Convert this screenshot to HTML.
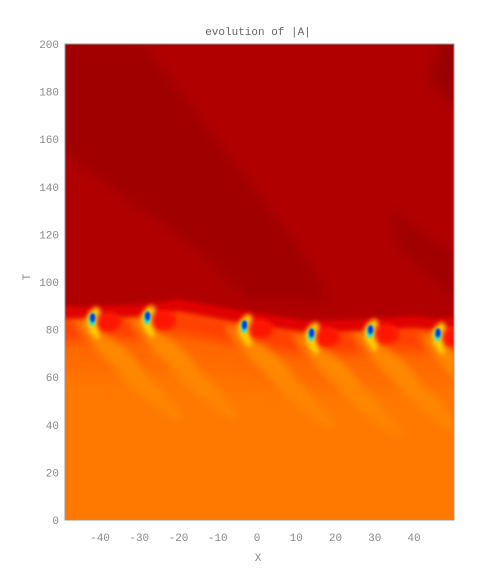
<!DOCTYPE html>
<html><head><meta charset="utf-8"><style>
body{margin:0;background:#fff;}
svg{display:block;font-family:"Liberation Mono",monospace;}
</style></head><body>
<svg width="500" height="583" viewBox="0 0 500 583">
<defs>
<filter id="b8" filterUnits="userSpaceOnUse" x="0" y="0" width="500" height="583"><feGaussianBlur stdDeviation="9"/></filter>
<filter id="b6" filterUnits="userSpaceOnUse" x="0" y="0" width="500" height="583"><feGaussianBlur stdDeviation="6"/></filter>
<filter id="b4" filterUnits="userSpaceOnUse" x="0" y="0" width="500" height="583"><feGaussianBlur stdDeviation="4"/></filter>
<filter id="b3" filterUnits="userSpaceOnUse" x="0" y="0" width="500" height="583"><feGaussianBlur stdDeviation="2.5"/></filter>
<filter id="b1" filterUnits="userSpaceOnUse" x="0" y="0" width="500" height="583"><feGaussianBlur stdDeviation="1"/></filter>
<clipPath id="clip"><rect x="65" y="44" width="389" height="476"/></clipPath>
</defs>
<text x="258" y="35" font-size="11" fill="#666" text-anchor="middle">evolution of |A|</text>
<g id="plot" clip-path="url(#clip)"></g>
<g id="axes"></g>
<text x="258" y="561" font-size="11" fill="#888" text-anchor="middle">X</text>
<text x="30" y="277" font-size="11" fill="#888" text-anchor="middle" transform="rotate(-90 30 277)">T</text>
</svg>
<script>
const xTicks=[-40,-30,-20,-10,0,10,20,30,40];
const yTicks=[0,20,40,60,80,100,120,140,160,180,200];
const spotX=[-42,-28,-3.3,13.8,28.8,46];
const spotT=[85,85.7,82,78.6,80,78.6];
const frontX=[-52,-42,-28,-20,-3.3,5,13.8,28.8,40,46,53];
const frontT=[88,88,89,91,86,84,82,83,84,83,84];
const NS='http://www.w3.org/2000/svg';
const sx=v=>257+v*3.925, sy=v=>520-v*2.38;
const plot=document.getElementById('plot'), axes=document.getElementById('axes');
function mk(p,tag,at){const e=document.createElementNS(NS,tag);for(const k in at)e.setAttribute(k,at[k]);p.appendChild(e);return e;}
let bg=mk(plot,'rect',{x:65,y:44,width:389,height:476,fill:'#ff7800'});


const fpts=(dy)=>frontX.map((x,i)=>sx(x)+','+(sy(frontT[i])+dy)).join(' ');
let t2=mk(plot,'polyline',{points:fpts(45),fill:'none',stroke:'#ff6a00',"stroke-width":40,filter:'url(#b8)'});


let t1=mk(plot,'polyline',{points:fpts(18),fill:'none',stroke:'#ff4000',"stroke-width":26,filter:'url(#b6)'});


spotX.forEach((x,i)=>{
 const cx=sx(x), cy=sy(spotT[i]);
 for(let k=0;k<3;k++){
  const ex=cx+15+k*22, ey=cy+28+k*24;
  let s=mk(plot,'ellipse',{cx:ex,cy:ey,rx:42,ry:9,fill:k==0?'#ff9800':'#ff8800',opacity:0.7,transform:`rotate(40 ${ex} ${ey})`,filter:'url(#b4)'});
  
  
 }
});
let up=mk(plot,'polygon',{points:'40,30 480,30 480,'+sy(84)+' '+fpts(0).split(' ').reverse().join(' ')+' 40,'+sy(88),fill:'#b00000',filter:'url(#b1)'});


let d1=mk(plot,'polygon',{points:'60,40 140,40 300,250 330,300 250,300 200,250 60,150',fill:'#a00000',filter:'url(#b6)'});


let d2=mk(plot,'polygon',{points:'440,40 460,40 460,110 430,80',fill:'#9a0000',filter:'url(#b6)'});


let d3=mk(plot,'polygon',{points:'390,210 460,260 460,300 400,250',fill:'#a00000',filter:'url(#b6)'});


let rb=mk(plot,'polyline',{points:fpts(2),fill:'none',stroke:'#e00000',"stroke-width":12,filter:'url(#b3)'});


spotX.forEach((x,i)=>{
 const cx=sx(x), cy=sy(spotT[i]);
 let r=mk(plot,'ellipse',{cx:cx+16,cy:cy+4,rx:13,ry:10,fill:'#ff1800',filter:'url(#b3)'});
 
 
 let y=mk(plot,'path',{d:`M${cx+4},${cy-8} Q${cx-12},${cy+2} ${cx+6},${cy+20} Q${cx-2},${cy+4} ${cx+6},${cy-6} Z`,fill:'#ffe000',stroke:'#ffd000','stroke-width':5,filter:'url(#b3)'});
 
 
 let c=mk(plot,'ellipse',{cx:cx,cy:cy+2,rx:3.5,ry:6.5,fill:'#30e0d0',filter:'url(#b1)'});
 
 
 let bl=mk(plot,'ellipse',{cx:cx+0.5,cy:cy,rx:2.5,ry:4.5,fill:'#0030e0',filter:'url(#b1)'});
 
 
});
let fr=mk(axes,'rect',{x:65,y:44,width:389,height:476,fill:'none',stroke:'#999','stroke-width':1});


xTicks.forEach(v=>{
 let t=mk(axes,'text',{x:sx(v),y:541,'font-size':11,fill:'#888','text-anchor':'middle'});
 t.textContent=v;
 
 
});
yTicks.forEach(v=>{
 let t=mk(axes,'text',{x:59,y:sy(v)+4,'font-size':11,fill:'#888','text-anchor':'end'});
 t.textContent=v;
 
 
});
</script>
</body></html>
